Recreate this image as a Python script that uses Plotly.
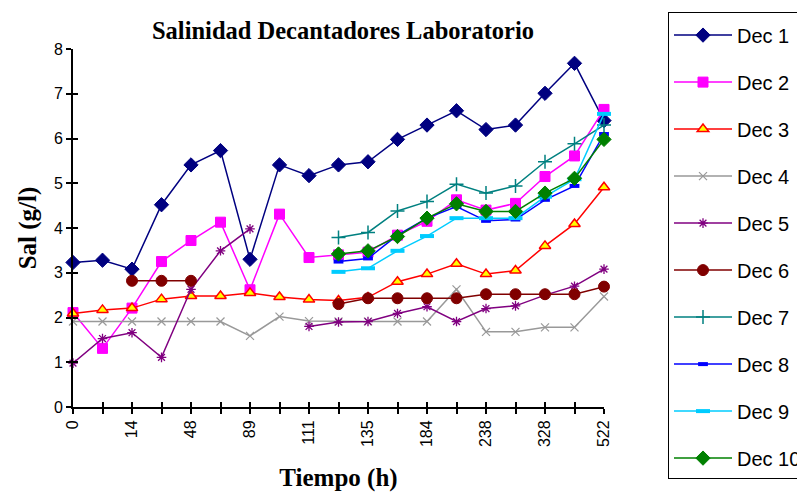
import plotly.graph_objects as go

# Category labels (every other category is unlabeled in the original)
x_labels = ["0", "", "14", "", "48", "", "89", "", "111", "", "135", "", "184", "", "238", "", "328", "", "522"]
x_idx = list(range(len(x_labels)))

N = None
dec1 = [3.23, 3.28, 3.08, 4.52, 5.41, 5.73, 3.30, 5.41, 5.17, 5.41, 5.48, 5.98, 6.30, 6.62, 6.20, 6.30, 7.01, 7.68, 6.40]
dec2 = [2.11, 1.31, 2.21, 3.25, 3.72, 4.13, 2.62, 4.31, 3.34, 3.40, 3.46, 3.84, 4.15, 4.63, 4.40, 4.55, 5.15, 5.61, 6.65]
dec3 = [2.09, 2.17, 2.21, 2.41, 2.48, 2.48, 2.55, 2.46, 2.40, 2.38, 2.45, 2.80, 2.97, 3.20, 2.97, 3.05, 3.60, 4.09, 4.91]
dec4 = [1.91, 1.91, 1.91, 1.91, 1.91, 1.91, 1.59, 2.02, 1.92, 1.91, 1.91, 1.91, 1.91, 2.63, 1.68, 1.68, 1.78, 1.78, 2.47]
dec5 = [0.98, 1.53, 1.66, 1.11, 2.63, 3.49, 3.98, N, 1.80, 1.90, 1.91, 2.09, 2.24, 1.91, 2.20, 2.26, 2.50, 2.70, 3.08]
dec6 = [N, N, 2.82, 2.82, 2.82, N, N, N, N, 2.30, 2.43, 2.43, 2.43, 2.43, 2.52, 2.52, 2.52, 2.52, 2.69]
dec7 = [N, N, N, N, N, N, N, N, N, 3.79, 3.90, 4.38, 4.59, 4.98, 4.78, 4.94, 5.48, 5.88, 6.30]
dec8 = [N, N, N, N, N, N, N, N, N, 3.25, 3.32, 3.84, 4.22, 4.48, 4.16, 4.19, 4.63, 4.94, 6.10]
dec9 = [N, N, N, N, N, N, N, N, N, 3.02, 3.10, 3.49, 3.82, 4.22, 4.22, 4.22, 4.70, 5.09, 6.55]
dec10 = [N, N, N, N, N, N, N, N, N, 3.42, 3.49, 3.81, 4.22, 4.54, 4.37, 4.37, 4.78, 5.11, 5.98]

series = [
    ("Dec 1", dec1, "#000080", dict(symbol="diamond", size=11, color="#000080", line=dict(color="#000080", width=1))),
    ("Dec 2", dec2, "#FF00FF", dict(symbol="square", size=10, color="#FF00FF", line=dict(color="#FF00FF", width=1))),
    ("Dec 3", dec3, "#FF0000", dict(symbol="triangle-up", size=10, color="#FFFF00", line=dict(color="#FF0000", width=1.5))),
    ("Dec 4", dec4, "#999999", dict(symbol="x-thin-open", size=8, color="#999999", line=dict(color="#999999", width=1.2))),
    ("Dec 5", dec5, "#800080", dict(symbol="asterisk-open", size=8, color="#800080", line=dict(color="#800080", width=1.3))),
    ("Dec 6", dec6, "#800000", dict(symbol="circle", size=11, color="#800000", line=dict(color="#800000", width=1))),
    ("Dec 7", dec7, "#008080", dict(symbol="cross-thin-open", size=10, color="#008080", line=dict(color="#008080", width=1.5))),
    ("Dec 8", dec8, "#0000FF", dict(symbol="line-ew-open", size=7, color="#0000FF", line=dict(color="#0000FF", width=4))),
    ("Dec 9", dec9, "#00CCFF", dict(symbol="line-ew-open", size=10, color="#00CCFF", line=dict(color="#00CCFF", width=4))),
    ("Dec 10", dec10, "#008000", dict(symbol="diamond", size=11, color="#008000", line=dict(color="#008000", width=1))),
]

fig = go.Figure()
for name, vals, col, mk in series:
    fig.add_trace(go.Scatter(
        x=x_idx, y=vals, name=name, mode="lines+markers",
        line=dict(color=col, width=1.5), marker=mk,
        connectgaps=False, cliponaxis=False, legendgroup=name,
    ))

# dummy trace for the overlay axes (inner half of crossing ticks)
fig.add_trace(go.Scatter(x=[], y=[], xaxis="x2", yaxis="y2", showlegend=False, hoverinfo="skip"))

tick_font = dict(family="Liberation Sans, Arial, sans-serif", size=16, color="#000000")
serif_bold = "Liberation Serif, Times New Roman, serif"

W, H = 797, 485
L, T, PW, PH = 65, 41, 531, 358

fig.update_layout(
    width=W, height=H,
    margin=dict(l=L, r=W - L - PW, t=T, b=H - T - PH, autoexpand=False),
    paper_bgcolor="white", plot_bgcolor="white",
    title=dict(text="<b>Salinidad Decantadores Laboratorio</b>", x=335 / W, xanchor="center",
               y=1 - 22 / H, yanchor="middle",
               font=dict(family=serif_bold, size=24.5, color="#000000")),
    showlegend=True,
    legend=dict(x=(660 - L) / PW, xanchor="left", y=(T + PH - 4) / PH, yanchor="top",
                bordercolor="#000000", borderwidth=1, bgcolor="white",
                font=dict(family="Liberation Sans, Arial, sans-serif", size=20, color="#000000"),
                title=dict(text=" ", font=dict(size=2)),
                tracegroupgap=18, itemwidth=58, maxheight=480),
    xaxis=dict(range=[0, 18], tickmode="array", tickvals=x_idx, ticktext=x_labels,
               tickangle=-90, ticks="outside", ticklen=5, tickwidth=1.5, tickcolor="#000000",
               showline=True, linecolor="#000000", linewidth=2, showgrid=False, zeroline=False,
               tickfont=tick_font,
               title=dict(text="<b>Tiempo (h)</b>", font=dict(family=serif_bold, size=25, color="#000000"), standoff=22)),
    yaxis=dict(range=[0, 8], tickmode="linear", tick0=0, dtick=1,
               ticks="outside", ticklen=5, tickwidth=1.5, tickcolor="#000000",
               showline=True, linecolor="#000000", linewidth=2, showgrid=False, zeroline=False,
               tickfont=tick_font,
               title=dict(text="<b>Sal (g/l)</b>", font=dict(family=serif_bold, size=25, color="#000000"), standoff=10)),
    xaxis2=dict(overlaying="x", range=[0, 18], tickmode="array", tickvals=x_idx, showticklabels=False,
                ticks="inside", ticklen=5, tickwidth=1.5, tickcolor="#000000",
                showline=False, showgrid=False, zeroline=False, side="bottom"),
    yaxis2=dict(overlaying="y", range=[0, 8], tickmode="linear", tick0=0, dtick=1, showticklabels=False,
                ticks="inside", ticklen=5, tickwidth=1.5, tickcolor="#000000",
                showline=False, showgrid=False, zeroline=False, side="left"),
)

fig.write_html("out.html")
